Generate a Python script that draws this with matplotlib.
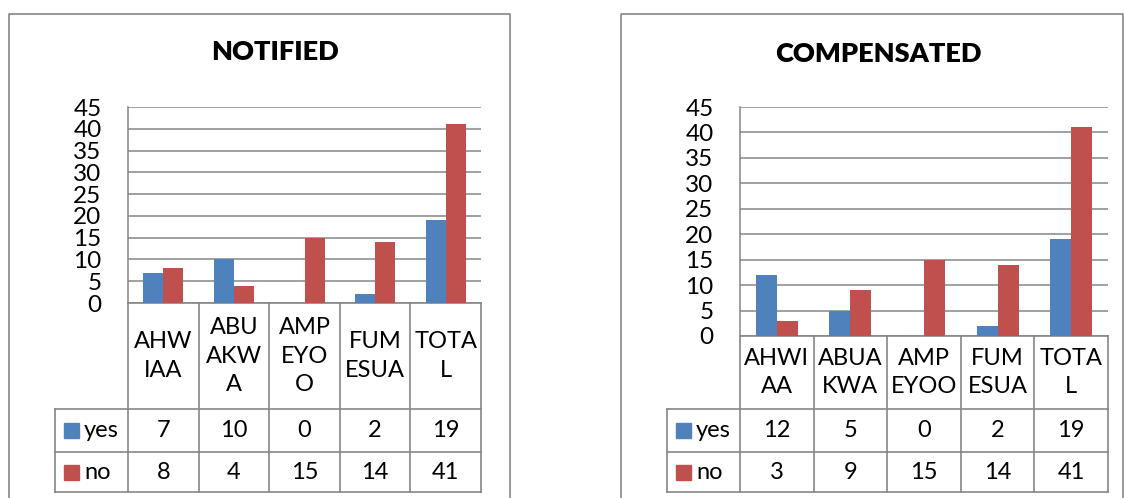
import numpy as np
import matplotlib
matplotlib.use("Agg")
import matplotlib.pyplot as plt
from matplotlib.patches import Rectangle

plt.rcParams['font.family'] = ['Lato', 'DejaVu Sans']

# ---------------------------------------------------------------------------
# Data
# ---------------------------------------------------------------------------
series_names = ['yes', 'no']

notified_cats = ['AHW\nIAA', 'ABU\nAKW\nA', 'AMP\nEYO\nO', 'FUM\nESUA', 'TOTA\nL']
notified_yes = [7, 10, 0, 2, 19]
notified_no = [8, 4, 15, 14, 41]

compensated_cats = ['AHWI\nAA', 'ABUA\nKWA', 'AMP\nEYOO', 'FUM\nESUA', 'TOTA\nL']
compensated_yes = [12, 5, 0, 2, 19]
compensated_no = [3, 9, 15, 14, 41]

y_ticks = [0, 5, 10, 15, 20, 25, 30, 35, 40, 45]

BLUE = '#4F81BD'
RED = '#C0504D'
GRID = '#868686'
FS = 17

W, H = 1124, 498
fig = plt.figure(figsize=(W / 100, H / 100), dpi=100)

# overlay in pixel coordinates for frames and data table
ov = fig.add_axes([0, 0, 1, 1])
ov.set_xlim(0, W)
ov.set_ylim(H, 0)
ov.axis('off')


def px_axes(x0, y0, x1, y1):
    return fig.add_axes([x0 / W, 1 - y1 / H, (x1 - x0) / W, (y1 - y0) / H])


def draw_chart(title, cats, yes, no, frame, plot, title_xy, rows, leg_x0):
    fx0, fy0, fx1 = frame
    ov.plot([fx0, fx0, fx1, fx1], [H + 5, fy0, fy0, H + 5], color=GRID, lw=1.2)
    ov.text(title_xy[0], title_xy[1], title, ha='center', va='center',
            fontsize=19.5, fontweight='heavy')

    px0, py0, px1, py1 = plot
    ax = px_axes(px0, py0, px1, py1)
    x = np.arange(len(cats))
    w = 0.286
    ax.bar(x - w / 2, yes, w, color=BLUE, zorder=3)
    ax.bar(x + w / 2, no, w, color=RED, zorder=3)
    ax.set_xlim(-0.5, len(cats) - 0.5)
    ax.set_ylim(0, 45)
    ax.set_yticks(y_ticks)
    ax.set_yticklabels([str(t) for t in y_ticks], fontsize=FS + 0.5)
    ax.tick_params(axis='y', length=0, pad=19)
    ax.set_xticks([])
    ax.grid(axis='y', color=GRID, lw=1.1, zorder=0)
    for s in ['top', 'right', 'bottom']:
        ax.spines[s].set_visible(False)
    ax.spines['left'].set_color(GRID)
    ax.spines['left'].set_linewidth(1.1)
    ax.patch.set_alpha(0)

    # data table
    r_top, r1, r2, r3 = py1, rows[0], rows[1], rows[2]
    n = len(cats)
    cw = (px1 - px0) / n
    xs = [px0 + k * cw for k in range(n + 1)]
    for xv in xs:
        ov.plot([xv, xv], [r_top, r3], color=GRID, lw=1.2)
    ov.plot([leg_x0, leg_x0], [r1, r3], color=GRID, lw=1.2)
    ov.plot([px0, px1], [r_top, r_top], color=GRID, lw=1.2)
    for yv in (r1, r2, r3):
        ov.plot([leg_x0, px1], [yv, yv], color=GRID, lw=1.2)
    for k, c in enumerate(cats):
        cx = px0 + (k + 0.5) * cw
        ov.text(cx, (r_top + r1) / 2, c, ha='center', va='center',
                fontsize=FS, linespacing=1.45)
        ov.text(cx, (r1 + r2) / 2, str(yes[k]), ha='center', va='center', fontsize=FS)
        ov.text(cx, (r2 + r3) / 2, str(no[k]), ha='center', va='center', fontsize=FS)
    for (ya, yb), name, col in zip([(r1, r2), (r2, r3)], series_names, [BLUE, RED]):
        yc = (ya + yb) / 2
        ov.add_patch(Rectangle((leg_x0 + 9, yc - 7.5), 15, 15, color=col))
        ov.text(leg_x0 + 29, yc, name, ha='left', va='center', fontsize=FS)


draw_chart('NOTIFIED', notified_cats, notified_yes, notified_no,
           frame=(9, 14, 510), plot=(128, 107, 481, 303),
           title_xy=(275, 52), rows=(409, 452, 492), leg_x0=55)
draw_chart('COMPENSATED', compensated_cats, compensated_yes, compensated_no,
           frame=(621, 14, 1123), plot=(740, 107, 1108, 336),
           title_xy=(878, 54), rows=(409, 452, 492), leg_x0=667)

fig.savefig('out.png', dpi=100)
